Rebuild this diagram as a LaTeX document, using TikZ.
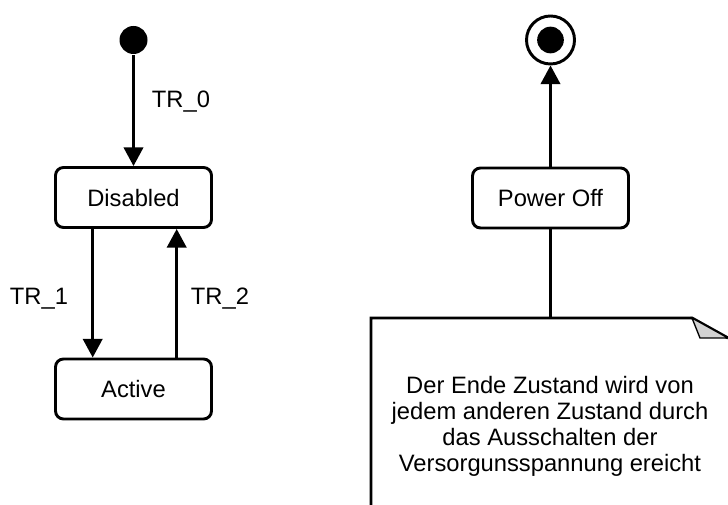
\documentclass[tikz,border=0pt]{standalone}
\usepackage{fontspec}
\setmainfont{Liberation Sans}
\usetikzlibrary{arrows.meta}

\tikzset{every picture/.style={line width=2.2pt}}

\begin{document}
\begin{tikzpicture}[x=0.75pt,y=0.75pt,yscale=-1,xscale=1,
  state/.style={draw, rounded corners=6pt, minimum width=117pt, minimum height=45pt, inner sep=0pt, text depth=0pt, font=\fontsize{17.8}{19.5}\selectfont},
  trans/.style={-{Triangle[length=14pt,width=14.5pt]}},
  lbl/.style={anchor=base, inner sep=0pt, font=\fontsize{17.8}{19.5}\selectfont}]
\useasboundingbox (0,0) rectangle (728,505);

% Initial State
\node [circle, fill, minimum size=21pt, inner sep=0pt] (init) at (133.5,40) {};
% Final State
\node [circle, draw, minimum size=36pt, inner sep=0pt] (final) at (550.5,40) {};
\node [circle, fill, minimum size=20pt, inner sep=0pt] (finaldot) at (final) {};

% State Nodes
\node [state] (disabled) at (133.5,197.5) {Disabled};
\node [state] (active) at (133.5,389) {Active};
\node [state] (poweroff) at (550.5,198) {Power Off};

% Transitions
\draw [trans] (init) -- (disabled);
\draw [trans] ([xshift=-30.6pt]disabled.south) -- ([xshift=-30.6pt]active.north);
\draw [trans] ([xshift=32.4pt]active.north) -- ([xshift=32.4pt]disabled.south);
\draw [trans] (poweroff) -- (final);

% Text Node
\node [lbl] (tr0) at (181,107.3) {TR\_0};
% Text Node
\node [lbl] (tr1) at (39,305) {TR\_1};
% Text Node
\node [lbl] (tr2) at (220,305) {TR\_2};

% Note
\coordinate (notetop) at (550.5,318);
\draw (poweroff) -- (notetop);
\draw (371,507) -- (371,318) -- (692,318) -- (728,338);
\filldraw [fill=gray!35, line width=1pt] (692,318) -- (700,338) -- (728,338) -- cycle;
% Text Node
\node [align=center, inner sep=0pt, font=\fontsize{17.8}{19.5}\selectfont] (notetext) at (550,426) {Der Ende Zustand wird von\\jedem anderen Zustand durch\\das Ausschalten der\\Versorgunsspannung ereicht};

\end{tikzpicture}
\end{document}
